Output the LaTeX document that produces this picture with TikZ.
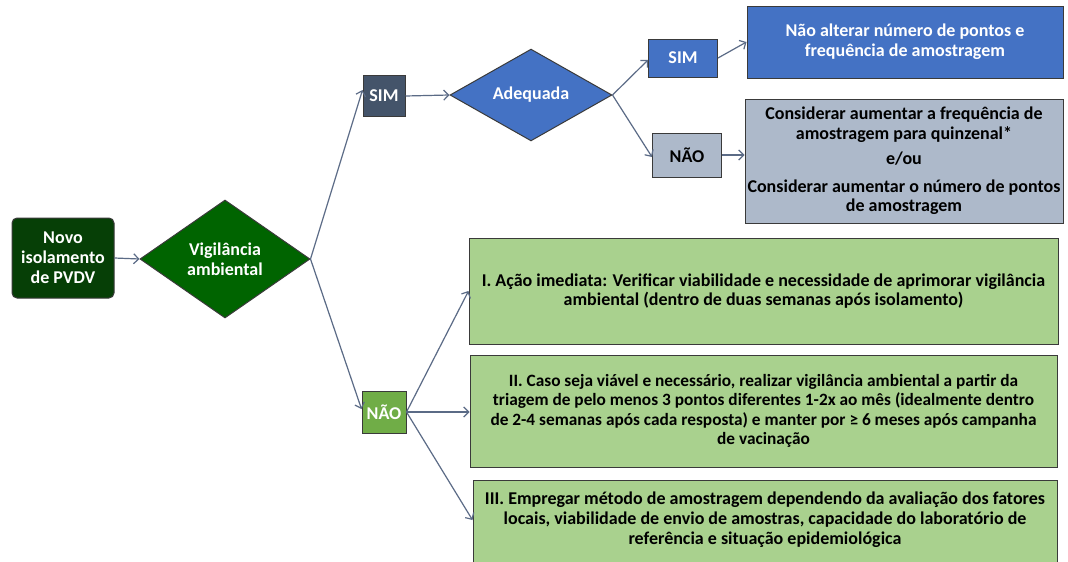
\documentclass[tikz,border=0pt]{standalone}
\usepackage{fontspec}
\setmainfont{Carlito}
\usetikzlibrary{shapes.geometric,arrows.meta,calc}
\definecolor{novoc}{HTML}{063F06}
\definecolor{vigc}{HTML}{006400}
\definecolor{simc}{HTML}{44546A}
\definecolor{bluec}{HTML}{4472C4}
\definecolor{grayc}{HTML}{ADB9CA}
\definecolor{naoc}{HTML}{70AD47}
\definecolor{lgreenc}{HTML}{A9D18E}
\definecolor{bordc}{HTML}{3A3A3A}
\definecolor{arrc}{HTML}{5B6B86}
\tikzset{
  txt/.style={font=\fontsize{18}{19.8}\selectfont\bfseries, align=center, inner sep=0pt},
  boxstyle/.style={txt, draw=bordc, line width=1pt, rectangle},
  diam/.style={txt, diamond, draw=bordc, line width=1pt},
  conn/.style={draw=arrc, line width=1.2pt, -{Straight Barb[length=5pt,width=10pt]}},
}
\begin{document}
\begin{tikzpicture}[x=1pt,y=-1pt]
\useasboundingbox (0,0) rectangle (1068,562);
\clip (0,0) rectangle (1068,562);
\fill[white] (0,0) rectangle (1068,562);
% nodes
\node[boxstyle, fill=novoc, text=white, rounded corners=5pt, minimum width=102pt, minimum height=80pt] (novo) at (63,258) {Novo\\isolamento\\de PVDV};
\node[diam, fill=vigc, text=white, minimum width=170pt, minimum height=118pt] (vig) at (225,259) {Vigilância\\ambiental};
\node[boxstyle, fill=simc, text=white, minimum width=42pt, minimum height=41pt] (sim) at (384,96) {SIM};
\node[diam, fill=bluec, text=white, minimum width=162pt, minimum height=58pt] (adq) at (531,95) {Adequada};
\node[boxstyle, fill=bluec, text=white, minimum width=69pt, minimum height=38pt] (sim2) at (683,58) {SIM};
\node[boxstyle, fill=grayc, text=black, minimum width=69pt, minimum height=44pt] (nao2) at (687,155) {NÃO};
\node[boxstyle, fill=bluec, text=white, minimum width=316pt, minimum height=72pt] (b1) at (905,42) {Não alterar número de pontos e\\frequência de amostragem};
\node[boxstyle, fill=grayc, text=black, minimum width=318pt, minimum height=124pt] (b2) at (904,161) {Considerar aumentar a frequência de\\amostragem para quinzenal*\\[5pt]e/ou\\[8pt]Considerar aumentar o número de pontos\\de amostragem};
\node[boxstyle, fill=naoc, text=white, minimum width=44pt, minimum height=42pt] (nao) at (384,412) {NÃO};
\node[boxstyle, fill=lgreenc, text=black, minimum width=589pt, minimum height=106pt] (g1) at (763.5,291) {I. Ação imediata: Verificar viabilidade e necessidade de aprimorar vigilância\\ambiental (dentro de duas semanas após isolamento)};
\node[boxstyle, fill=lgreenc, text=black, minimum width=587pt, minimum height=112pt, font=\fontsize{17.3}{19.5}\selectfont\bfseries] (g2) at (763.5,411) {II. Caso seja viável e necessário, realizar vigilância ambiental a partir da\\triagem de pelo menos 3 pontos diferentes 1-2x ao mês (idealmente dentro\\de 2-4 semanas após cada resposta) e manter por ≥ 6 meses após campanha\\de vacinação};
\node[boxstyle, fill=lgreenc, minimum width=584pt, minimum height=86pt] (g3) at (765,523) {};
\node[txt, text=black] (g3t) at (765,520) {III. Empregar método de amostragem dependendo da avaliação dos fatores\\locais, viabilidade de envio de amostras, capacidade do laboratório de\\referência e situação epidemiológica};
% connectors
\draw[conn] (novo.east) -- (vig.west);
\draw[conn] (vig.east) -- ($(sim.west)+(0,-6)$);
\draw[conn] (vig.east) -- ($(nao.west)+(0,-3)$);
\draw[conn] (sim.east) -- (adq.west);
\draw[conn] (adq.east) -- ($(sim2.west)+(0,2)$);
\draw[conn] (adq.east) -- ($(nao2.west)+(0,2)$);
\draw[conn] (sim2.east) -- (b1.west);
\draw[conn] (nao2.east) -- (b2.west |- nao2.east);
\draw[conn] (nao.east) -- (g1.west);
\draw[conn] (nao.east) -- (g2.west |- nao.east);
\draw[conn] (nao.east) -- (g3.west |- g3t.center);
\end{tikzpicture}
\end{document}
